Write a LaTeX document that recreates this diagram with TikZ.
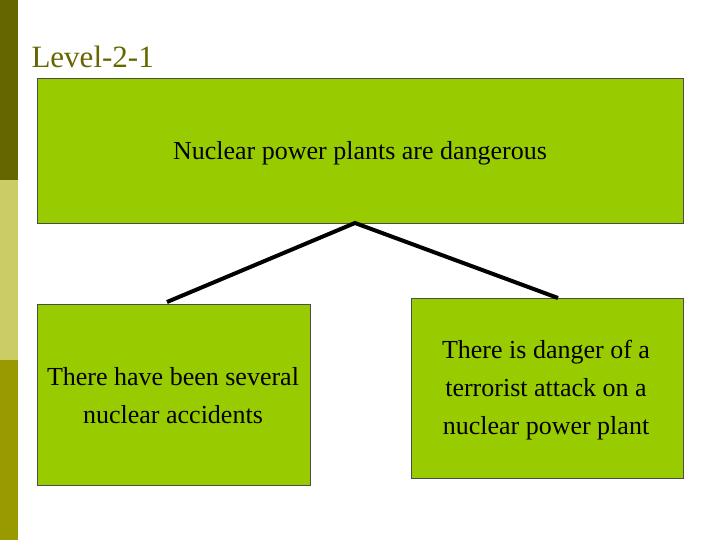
\documentclass[tikz,border=0pt]{standalone}
\usepackage{fontspec}
\setmainfont{Liberation Serif}
\definecolor{boxg}{HTML}{99CC00}
\definecolor{olv}{HTML}{666600}
\definecolor{lolv}{HTML}{CCCC66}
\definecolor{molv}{HTML}{999900}
\begin{document}
\begin{tikzpicture}[x=1pt,y=-1pt,
  box/.style={draw=black!70,line width=0.6pt,fill=boxg,anchor=north west,inner sep=0pt,align=center},
  link/.style={line width=4pt}]
\useasboundingbox (0,0) rectangle (720,540);
\fill[white] (0,0) rectangle (720,540);
\fill[olv] (0,0) rectangle (18,180);
\fill[lolv] (0,180) rectangle (18,360);
\fill[molv] (0,360) rectangle (18,540);
\node[anchor=west,text=olv,font=\fontsize{31}{36}\selectfont] (title) at (28,57) {Level-2-1};
\node[box,minimum width=646pt,minimum height=145pt] (top) at (37,78) {};
\node[font=\fontsize{26}{30}\selectfont] (toptext) at (360,153) {Nuclear power plants are dangerous};
\node[box,minimum width=273pt,minimum height=181pt] (left) at (37,304) {};
\node[font=\fontsize{26}{38}\selectfont,align=center] (lefttext) at (173,396) {There have been several\\nuclear accidents};
\node[box,minimum width=272pt,minimum height=180pt] (right) at (411,298) {};
\node[font=\fontsize{26}{38}\selectfont,align=center] (righttext) at (546,390) {There is danger of a\\terrorist attack on a\\nuclear power plant};
\coordinate (apex) at (355,223);
\coordinate (lend) at (167,302);
\coordinate (rend) at (558,298);
\draw[link] (lend) -- (apex) -- (rend);
\end{tikzpicture}
\end{document}
